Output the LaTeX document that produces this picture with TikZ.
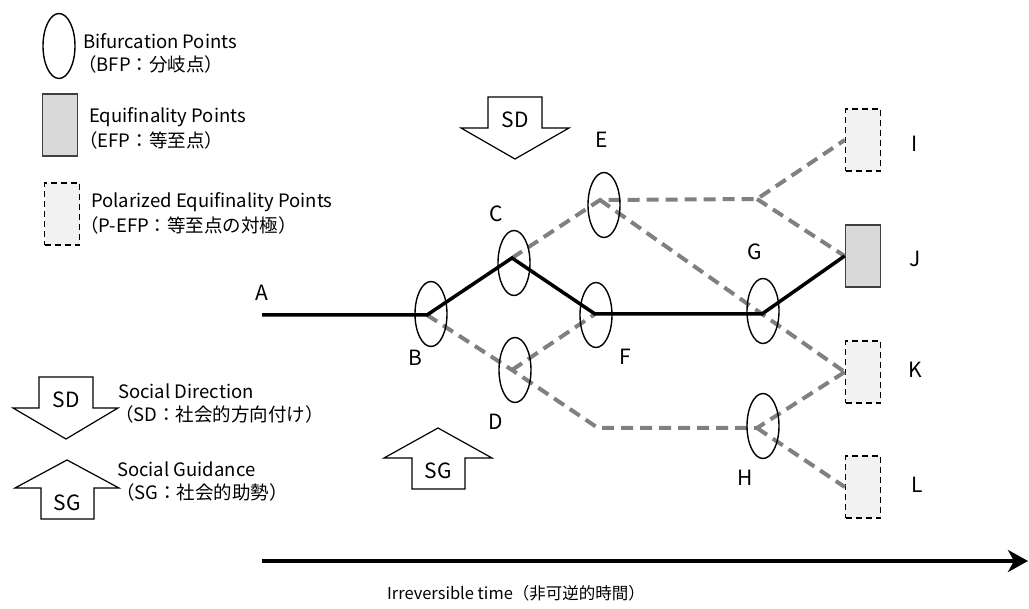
\documentclass[tikz,border=0pt]{standalone}
\usepackage{fontspec}
\setmainfont{Noto Sans CJK JP}
\usetikzlibrary{shapes.geometric,arrows.meta}
\tikzset{
  bfp/.style={draw, ellipse, line width=1.4pt, minimum width=32pt, minimum height=65pt, inner sep=0pt},
  efp/.style={draw=black!75, fill=black!15, line width=1.8pt, minimum width=35pt, minimum height=62pt, inner sep=0pt},
  pefp/.style={draw, dash pattern=on 6pt off 4pt, fill=black!5, line width=1.5pt, minimum width=35pt, minimum height=62pt, inner sep=0pt},
  mainpath/.style={line width=3.5pt, line join=miter},
  altpath/.style={draw=black!50, line width=4pt, dash pattern=on 12pt off 7pt},
  lbl/.style={font=\fontsize{21}{24}\selectfont, inner sep=0pt},
  legtext/.style={font=\fontsize{18.5}{21}\selectfont, inner sep=0pt, anchor=west},
  blockarrow/.style={draw, line width=1.2pt, fill=white, line join=miter},
  arrtext/.style={font=\fontsize{21}{24}\selectfont, inner sep=0pt},
}
\begin{document}
\begin{tikzpicture}[x=1pt,y=-1pt]
\useasboundingbox (0,0) rectangle (1029,609);

% ---------- Legend ----------
\node[bfp] (legbfp) at (59,46) {};
\node[legtext] (legbfp1) at (83,41) {Bifurcation Points};
\node[legtext] (legbfp2) at (78,64) {（BFP：分岐点）};

\node[efp] (legefp) at (60,125) {};
\node[legtext] (legefp1) at (89,117) {Equifinality Points};
\node[legtext] (legefp2) at (79,140) {（EFP：等至点）};

\node[pefp] (legpefp) at (62,214) {};
\node[legtext] (legpefp1) at (91,202) {Polarized Equifinality Points};
\node[legtext] (legpefp2) at (80,225) {（P-EFP：等至点の対極）};

\draw[blockarrow] (39,377) -- (93,377) -- (93,408) -- (118,408) -- (66,439) -- (13,408) -- (39,408) -- cycle;
\node[arrtext] (legsd) at (66,400) {SD};
\node[legtext] (legsd1) at (118,391) {Social Direction};
\node[legtext] (legsd2) at (115,414) {（SD：社会的方向付け）};

\draw[blockarrow] (41,519) -- (94,519) -- (94,488) -- (119,488) -- (67,460) -- (15,488) -- (41,488) -- cycle;
\node[arrtext] (legsg) at (67,503) {SG};
\node[legtext] (legsg1) at (117,469) {Social Guidance};
\node[legtext] (legsg2) at (116,492) {（SG：社会的助勢）};

% ---------- Block arrows in diagram ----------
\draw[blockarrow] (488,97) -- (542,97) -- (542,128) -- (569,128) -- (515,159) -- (461,128) -- (488,128) -- cycle;
\node[arrtext] (sd) at (515,120) {SD};
\draw[blockarrow] (412,489) -- (465,489) -- (465,458) -- (492,458) -- (438,428) -- (384,458) -- (412,458) -- cycle;
\node[arrtext] (sg) at (438,471) {SG};

% ---------- Path points ----------
\coordinate (pA) at (262,315);
\coordinate (pB) at (427,315);
\coordinate (pC) at (512,258);
\coordinate (pD) at (512,370);
\coordinate (pE) at (600,200);
\coordinate (pF) at (595,314);
\coordinate (pG) at (762,314);
\coordinate (pH) at (757,428);
\coordinate (pIJ) at (757,199);
\coordinate (pDH) at (598,428);

% ---------- Endpoints ----------
\node[pefp] (I) at (863,140) {};
\node[efp] (J) at (863,256) {};
\node[pefp] (K) at (863,372) {};
\node[pefp] (L) at (863,487) {};

% ---------- Paths ----------
\draw[altpath] (pB) -- (pD) -- (pDH) -- (pH) -- (K.west);
\draw[altpath] (pH) -- (L.west);
\draw[altpath] (pD) -- (pF);
\draw[altpath] (pC) -- (pE) -- (pIJ) -- (I.west);
\draw[altpath] (pIJ) -- (J.west);
\draw[altpath] (pE) -- (pG) -- (K.west);
\draw[mainpath] (pA) -- (pB) -- (pC) -- (pF) -- (pG) -- (J.west);

% ---------- Bifurcation ellipses ----------
\node[bfp] (B) at (431,314) {};
\node[bfp] (C) at (514,263) {};
\node[bfp] (D) at (515,370) {};
\node[bfp] (E) at (604,205) {};
\node[bfp] (F) at (596,315) {};
\node[bfp] (G) at (763,311) {};
\node[bfp] (H) at (763,426) {};

% ---------- Letter labels ----------
\node[lbl] (lA) at (262,293) {A};
\node[lbl] (lB) at (415,358) {B};
\node[lbl] (lC) at (496,214) {C};
\node[lbl] (lD) at (496,422) {D};
\node[lbl] (lE) at (602,140) {E};
\node[lbl] (lF) at (625,357) {F};
\node[lbl] (lG) at (755,252) {G};
\node[lbl] (lH) at (745,478) {H};
\node[lbl] (lI) at (915,144) {I};
\node[lbl] (lJ) at (915,259) {J};
\node[lbl] (lK) at (915,370) {K};
\node[lbl] (lL) at (917,485) {L};

% ---------- Time axis ----------
\coordinate (t0) at (262,561);
\coordinate (t1) at (1028,561);
\draw[line width=4pt, -{Stealth[length=20pt, width=22pt, inset=6pt]}] (t0) -- (t1);
\node[font=\fontsize{16.5}{20}\selectfont, inner sep=0pt] (time) at (516,593) {Irreversible time（非可逆的時間）};
\end{tikzpicture}
\end{document}
